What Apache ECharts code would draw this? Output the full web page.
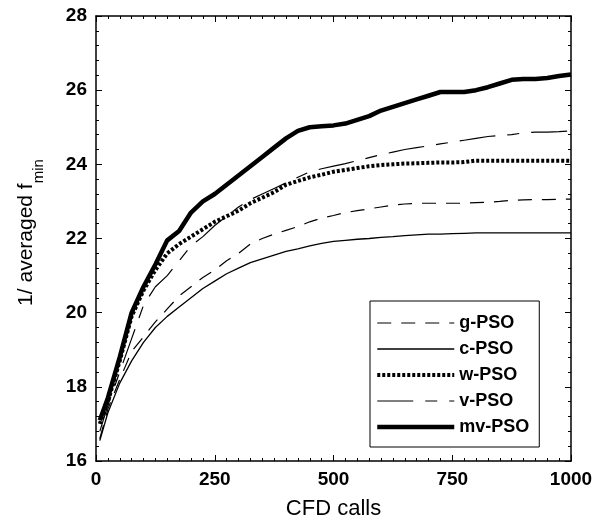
<!DOCTYPE html>
<html><head><meta charset="utf-8">
<script src="https://cdn.jsdelivr.net/npm/echarts@6/dist/echarts.min.js"></script>
<style>html,body{margin:0;padding:0;background:#fff}#c{width:594px;height:522px}</style>
</head><body><div id="c"></div>
<script>
const xs = [8, 25, 50, 75, 100, 125, 150, 175, 200, 225, 250, 275, 300, 325, 350, 375, 400, 425, 450, 475, 500, 525, 550, 575, 600, 625, 650, 675, 700, 725, 750, 775, 800, 825, 850, 875, 900, 925, 950, 975, 1000];
const gPSO = [16.6, 17.4, 18.2, 18.95, 19.35, 19.75, 20.1, 20.45, 20.7, 20.95, 21.15, 21.4, 21.6, 21.85, 22.0, 22.12, 22.22, 22.32, 22.45, 22.55, 22.62, 22.7, 22.75, 22.8, 22.85, 22.9, 22.93, 22.95, 22.95, 22.95, 22.95, 22.95, 22.97, 22.98, 23.0, 23.03, 23.04, 23.05, 23.05, 23.06, 23.06];
const cPSO = [16.55, 17.3, 18.1, 18.7, 19.2, 19.6, 19.9, 20.15, 20.4, 20.65, 20.85, 21.05, 21.2, 21.35, 21.45, 21.55, 21.65, 21.72, 21.8, 21.87, 21.92, 21.95, 21.98, 22.0, 22.03, 22.05, 22.08, 22.1, 22.12, 22.12, 22.13, 22.14, 22.15, 22.15, 22.15, 22.15, 22.15, 22.15, 22.15, 22.15, 22.15];
const wPSO = [17.0, 17.6, 18.7, 19.9, 20.6, 21.15, 21.6, 21.85, 22.05, 22.25, 22.45, 22.6, 22.75, 22.95, 23.1, 23.25, 23.45, 23.55, 23.65, 23.72, 23.8, 23.85, 23.9, 23.95, 23.98, 24.0, 24.02, 24.03, 24.04, 24.05, 24.05, 24.06, 24.1, 24.1, 24.1, 24.1, 24.1, 24.1, 24.1, 24.1, 24.1];
const vPSO = [16.8, 17.5, 18.4, 19.3, 20.2, 20.7, 21.0, 21.4, 21.8, 22.05, 22.35, 22.6, 22.85, 23.05, 23.2, 23.35, 23.5, 23.65, 23.8, 23.88, 23.95, 24.02, 24.1, 24.18, 24.26, 24.33, 24.4, 24.45, 24.5, 24.55, 24.6, 24.65, 24.7, 24.75, 24.78, 24.8, 24.85, 24.87, 24.87, 24.88, 24.9];
const mvPSO = [17.1, 17.7, 18.8, 20.0, 20.7, 21.3, 21.95, 22.2, 22.7, 23.0, 23.2, 23.45, 23.7, 23.95, 24.2, 24.45, 24.7, 24.9, 25.0, 25.03, 25.05, 25.1, 25.2, 25.3, 25.45, 25.55, 25.65, 25.75, 25.85, 25.95, 25.95, 25.95, 26.0, 26.08, 26.18, 26.28, 26.3, 26.3, 26.33, 26.38, 26.42];
const seriesNames = ['g-PSO', 'c-PSO', 'w-PSO', 'v-PSO', 'mv-PSO'];
const xTicks = [0, 250, 500, 750, 1000];
const yTicks = [16, 18, 20, 22, 24, 26, 28];

const pairs = arr => xs.map((x, i) => [x, arr[i]]);
const styles = [
  {width: 1.2, type: [14, 10]},
  {width: 1.3, type: 'solid'},
  {width: 4, type: [3, 2]},
  {width: 1.2, type: [36, 12, 12, 12]},
  {width: 4.5, type: 'solid'}
];
const datasets = [gPSO, cPSO, wPSO, vPSO, mvPSO];
const chart = echarts.init(document.getElementById('c'), null, {renderer: 'canvas'});
const axisCommon = {
  axisLine: {show: true, onZero: false, lineStyle: {color: '#000', width: 1.5}},
  axisTick: {show: true, inside: true, length: 6, lineStyle: {color: '#000', width: 1}},
  minorTick: {show: true, length: 3, lineStyle: {color: '#000', width: 1}},
  splitLine: {show: false},
  minorSplitLine: {show: false}
};
const labelStyle = {color: '#000', fontFamily: 'Liberation Sans, Arial, sans-serif', fontSize: 19, fontWeight: 'bold'};
chart.setOption({
  backgroundColor: '#fff',
  animation: false,
  grid: {left: 96, right: 23, top: 16, bottom: 61, containLabel: false, outerBoundsMode: 'none'},
  xAxis: [
    Object.assign({}, axisCommon, {
      type: 'value', min: 0, max: 1000, interval: 250, position: 'bottom',
      minorTick: Object.assign({}, axisCommon.minorTick, {splitNumber: 10}),
      axisLabel: Object.assign({margin: 9, formatter: v => xTicks.includes(v) ? String(v) : ''}, labelStyle),
      name: 'CFD calls', nameLocation: 'middle', nameGap: 37,
      nameTextStyle: {color: '#000', fontFamily: 'Liberation Sans, Arial, sans-serif', fontSize: 22}
    }),
    Object.assign({}, axisCommon, {
      type: 'value', min: 0, max: 1000, interval: 250, position: 'top',
      minorTick: Object.assign({}, axisCommon.minorTick, {splitNumber: 10}),
      axisLabel: {show: false}
    })
  ],
  yAxis: [
    Object.assign({}, axisCommon, {
      type: 'value', min: 16, max: 28, interval: 2, position: 'left',
      minorTick: Object.assign({}, axisCommon.minorTick, {splitNumber: 5}),
      axisLabel: Object.assign({margin: 9, formatter: v => yTicks.includes(v) ? String(v) : ''}, labelStyle),
      name: '{a|1/ averaged f}{b|min}', nameLocation: 'middle', nameGap: 50,
      nameTextStyle: {
        color: '#000',
        padding: [0, 0, 0, 12],
        rich: {
          a: {fontFamily: 'Liberation Sans, Arial, sans-serif', fontSize: 21, color: '#000', lineHeight: 30, verticalAlign: 'top'},
          b: {fontFamily: 'Liberation Sans, Arial, sans-serif', fontSize: 15, color: '#000', lineHeight: 30, verticalAlign: 'bottom', padding: [10, 0, 0, 0]}
        }
      }
    }),
    Object.assign({}, axisCommon, {
      type: 'value', min: 16, max: 28, interval: 2, position: 'right',
      minorTick: Object.assign({}, axisCommon.minorTick, {splitNumber: 5}),
      axisLabel: {show: false}
    })
  ],
  legend: {
    orient: 'vertical', left: 370, top: 301,
    data: seriesNames.map((n, i) => ({name: n, lineStyle: {color: '#000', width: styles[i].width, type: styles[i].type}})),
    backgroundColor: '#fff', borderColor: '#000', borderWidth: 1,
    padding: [13, 10, 11, 5],
    itemWidth: 77, itemHeight: 14, itemGap: 8,
    itemStyle: {opacity: 0},
    textStyle: {color: '#000', fontFamily: 'Liberation Sans, Arial, sans-serif', fontSize: 18, fontWeight: 'bold', lineHeight: 18},
    selectedMode: false
  },
  series: seriesNames.map((n, i) => ({
    name: n, type: 'line', xAxisIndex: 0, yAxisIndex: 0,
    data: pairs(datasets[i]),
    showSymbol: false, symbol: 'none', smooth: false,
    lineStyle: Object.assign({color: '#000'}, styles[i]),
    itemStyle: {color: '#000'},
    z: 5 - i
  }))
});
</script></body></html>
